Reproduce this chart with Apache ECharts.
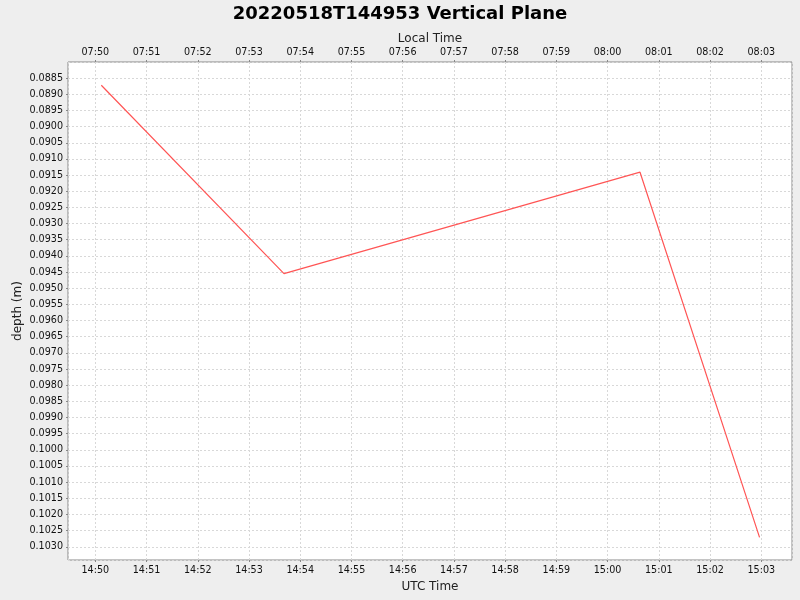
<!DOCTYPE html>
<html>
<head>
<meta charset="utf-8">
<script src="https://cdn.jsdelivr.net/npm/echarts@6/dist/echarts.min.js"></script>
<style>
html,body{margin:0;padding:0;background:#eeeeee;}
#chart{width:800px;height:600px;}
</style>
</head>
<body>
<div id="chart"></div>
<script>
// Data (UTC time of each sample, depth in metres)
const utcTimes = ['14:50:07', '14:53:41', '15:00:38', '15:02:58'];
const depths = [0.08872, 0.09455, 0.09141, 0.10271];
const localOffsetHours = -7;
const xRange = ['14:49:28', '15:03:36'];
const yMin = 0.0880, yMax = 0.10341, yStep = 0.0005;

function toMinutes(s) {
  const p = s.split(':').map(Number);
  return p[0] * 60 + p[1] + (p[2] || 0) / 60;
}
function fmtHM(v) {
  let m = Math.round(v);
  m = ((m % 1440) + 1440) % 1440;
  const h = Math.floor(m / 60), mm = m % 60;
  return String(h).padStart(2, '0') + ':' + String(mm).padStart(2, '0');
}
const seriesData = utcTimes.map((t, i) => [toMinutes(t), depths[i]]);
const xMin = toMinutes(xRange[0]), xMax = toMinutes(xRange[1]);

const font = 'DejaVu Sans';
const tickFont = 9.6;
const labelColor = '#111';
const chart = echarts.init(document.getElementById('chart'));
const xCommon = {
  type: 'value', min: xMin, max: xMax, splitNumber: 14,
  axisLine: { show: false },
  axisTick: { show: true, length: 2, lineStyle: { color: '#888' } },
  nameLocation: 'middle', nameMoveOverlap: false,
  nameTextStyle: { fontFamily: font, fontSize: 12, color: '#222' }
};
chart.setOption({
  backgroundColor: '#eeeeee',
  animation: false,
  title: {
    text: '20220518T144953 Vertical Plane',
    left: 'center', top: 0,
    textStyle: { fontFamily: font, fontSize: 18, fontWeight: 'bold', color: '#000' }
  },
  grid: {
    left: 68, right: 8, top: 62, bottom: 40,
    outerBoundsMode: 'none', containLabel: false,
    show: true, backgroundColor: '#ffffff', borderColor: '#888', borderWidth: 1
  },
  xAxis: [
    Object.assign({}, xCommon, {
      position: 'bottom', name: 'UTC Time', nameGap: 21,
      axisLabel: { fontFamily: font, fontSize: tickFont, color: labelColor, margin: 5,
        showMinLabel: false, showMaxLabel: false, formatter: v => fmtHM(v) },
      splitLine: { show: true, lineStyle: { color: '#d8d8d8', type: [2, 2], width: 1 } }
    }),
    Object.assign({}, xCommon, {
      position: 'top', name: 'Local Time', nameGap: 17,
      axisLabel: { fontFamily: font, fontSize: tickFont, color: labelColor, margin: 5,
        showMinLabel: false, showMaxLabel: false,
        formatter: v => fmtHM(v + localOffsetHours * 60) },
      splitLine: { show: false }
    })
  ],
  yAxis: {
    type: 'value', inverse: true, min: yMin, max: yMax, interval: yStep,
    name: 'depth (m)', nameLocation: 'middle', nameGap: 44, nameMoveOverlap: false,
    nameTextStyle: { fontFamily: font, fontSize: 12, color: '#222' },
    axisLine: { show: false },
    axisTick: { show: true, length: 2, lineStyle: { color: '#888' } },
    axisLabel: { fontFamily: font, fontSize: tickFont, color: labelColor, margin: 5,
      showMinLabel: false, showMaxLabel: false,
      formatter: v => v.toFixed(4) },
    splitLine: { show: true, lineStyle: { color: '#d8d8d8', type: [2, 2], width: 1 } }
  },
  series: [{
    type: 'line', xAxisIndex: 0, data: seriesData,
    showSymbol: false, symbol: 'none',
    lineStyle: { color: '#ff5555', width: 1.2 }
  }]
});
</script>
</body>
</html>
